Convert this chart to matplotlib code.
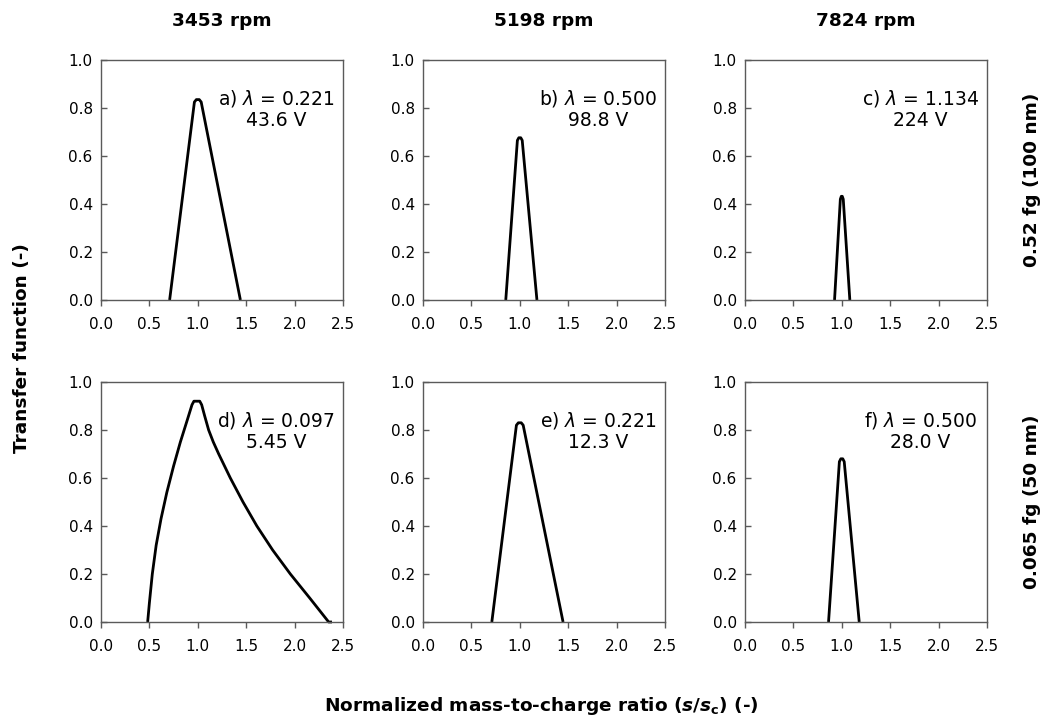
import matplotlib
matplotlib.use("Agg")
import matplotlib.pyplot as plt

plt.rcParams['font.family'] = ['DejaVu Sans']
plt.rcParams['mathtext.fontset'] = 'dejavusans'

# ---- data ----
col_titles = ["3453 rpm", "5198 rpm", "7824 rpm"]
row_labels = ["0.52 fg (100 nm)", "0.065 fg (50 nm)"]
panel_letters = ["a)", "b)", "c)", "d)", "e)", "f)"]
lambdas = ["0.221", "0.500", "1.134", "0.097", "0.221", "0.500"]
voltages = ["43.6 V", "98.8 V", "224 V", "5.45 V", "12.3 V", "28.0 V"]

a_x = [0.709, 0.965, 0.985, 1.015, 1.035, 1.44]
a_y = [0.0, 0.825, 0.835, 0.835, 0.825, 0.0]

b_x = [0.855, 0.975, 0.99, 1.01, 1.025, 1.177]
b_y = [0.0, 0.665, 0.676, 0.676, 0.665, 0.0]

c_x = [0.925, 0.985, 0.995, 1.005, 1.015, 1.083]
c_y = [0.0, 0.42, 0.432, 0.432, 0.42, 0.0]

d_x = [0.482, 0.50, 0.53, 0.57, 0.62, 0.68, 0.75, 0.82, 0.89, 0.94, 0.96,
       1.02, 1.04, 1.07, 1.112, 1.16, 1.216, 1.336, 1.467, 1.61, 1.773,
       1.956, 2.156, 2.352, 2.386]
d_y = [0.0, 0.08, 0.2, 0.32, 0.43, 0.54, 0.65, 0.75, 0.84, 0.905, 0.92,
       0.92, 0.905, 0.86, 0.8, 0.75, 0.7, 0.6, 0.5, 0.4, 0.3,
       0.2, 0.1, 0.0, 0.0]

e_x = [0.711, 0.965, 0.985, 1.015, 1.035, 1.447]
e_y = [0.0, 0.82, 0.83, 0.83, 0.82, 0.0]

f_x = [0.863, 0.975, 0.99, 1.01, 1.025, 1.18]
f_y = [0.0, 0.668, 0.68, 0.68, 0.668, 0.0]

curves = [(a_x, a_y), (b_x, b_y), (c_x, c_y), (d_x, d_y), (e_x, e_y), (f_x, f_y)]

xticks = [0.0, 0.5, 1.0, 1.5, 2.0, 2.5]
yticks = [0.0, 0.2, 0.4, 0.6, 0.8, 1.0]

# ---- figure ----
W, H = 1046, 724
fig = plt.figure(figsize=(W / 100, H / 100), dpi=100)

lefts = [101, 423, 745]
tops = [60, 382]
aw, ah = 242, 240

spine_col = '#5a5a5a'
for i, (cx, cy) in enumerate(curves):
    r, c = divmod(i, 3)
    ax = fig.add_axes([lefts[c] / W, 1 - (tops[r] + ah) / H, aw / W, ah / H])
    ax.plot(cx, cy, color='black', lw=2.0, solid_joinstyle='round',
            solid_capstyle='butt', clip_on=False)
    ax.set_xlim(0, 2.5)
    ax.set_ylim(0, 1.0)
    ax.set_xticks(xticks)
    ax.set_yticks(yticks)
    ax.set_xticklabels([f"{v:.1f}" for v in xticks])
    ax.set_yticklabels([f"{v:.1f}" for v in yticks])
    ax.tick_params(axis='x', direction='out', length=4, width=1, color=spine_col,
                   labelsize=11, pad=8)
    ax.tick_params(axis='y', direction='in', length=4, width=1, color=spine_col,
                   labelsize=11, pad=6)
    for s in ax.spines.values():
        s.set_color(spine_col)
        s.set_linewidth(1.0)
    ax.text(1.81, 0.795,
            f"{panel_letters[i]} $\\lambda$ = {lambdas[i]}\n{voltages[i]}",
            ha='center', va='center', multialignment='center',
            fontsize=13.5, linespacing=1.1)
    if r == 0:
        fig.text((lefts[c] + aw / 2) / W, 1 - 21 / H, col_titles[c],
                 ha='center', va='center', fontsize=13.3, fontweight='bold')
    if c == 2:
        fig.text(1032 / W, 1 - (tops[r] + ah / 2) / H, row_labels[r], rotation=90,
                 ha='center', va='center', fontsize=13.3, fontweight='bold')

fig.text(22 / W, 1 - 348 / H, "Transfer function (-)", rotation=90,
         ha='center', va='center', fontsize=13.3, fontweight='bold')
fig.text(541 / W, 1 - 706 / H,
         r"Normalized mass-to-charge ratio ($\mathbfit{s}$/$\mathbfit{s}_\mathbf{c}$) (-)",
         ha='center', va='center', fontsize=13.3, fontweight='bold')

fig.savefig("out.png", dpi=100, facecolor='white')
